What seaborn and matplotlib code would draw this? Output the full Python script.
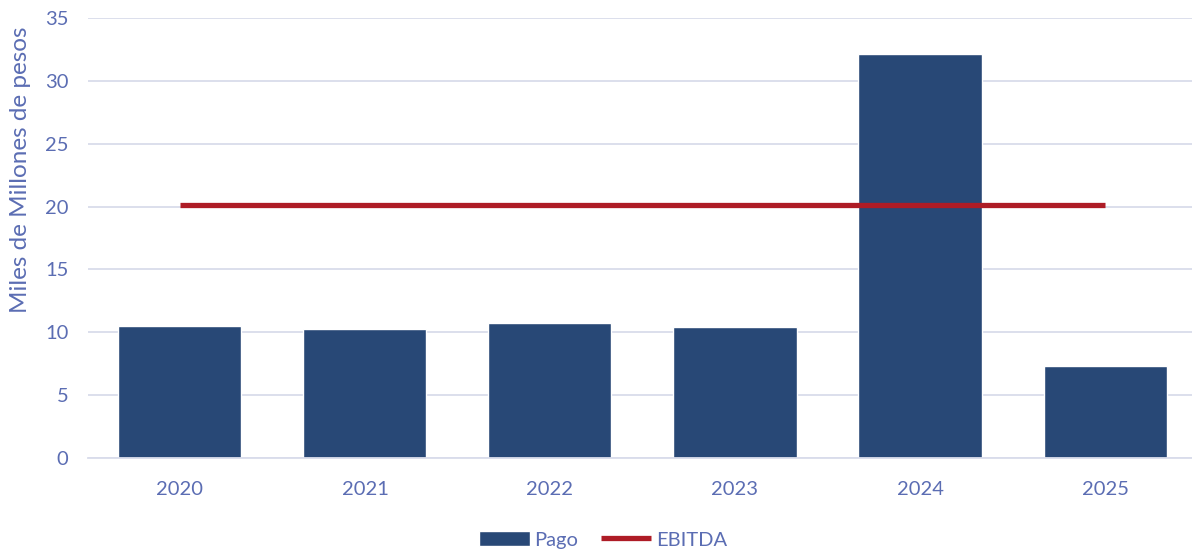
import pandas as pd
import matplotlib.pyplot as plt
import seaborn as sns

years = ["2020", "2021", "2022", "2023", "2024", "2025"]
pago = [10.5, 10.25, 10.72, 10.42, 32.12, 7.32]
ebitda = [20.1, 20.1, 20.1, 20.1, 20.1, 20.1]

text_color = "#5B6DB3"
bar_color = "#284876"
line_color = "#AE1C26"
grid_color = "#D9DCEB"

sns.set_style("white")
plt.rcParams["font.family"] = ["Lato", "DejaVu Sans"]

df = pd.DataFrame({"year": years, "Pago": pago})

fig = plt.figure(figsize=(11.92, 5.51), dpi=100)
ax = fig.add_axes([0.0738, 0.169, 0.9262, 0.798])

sns.barplot(data=df, x="year", y="Pago", color=bar_color, width=0.665,
            saturation=1, ax=ax, label="Pago", zorder=2)
ax.plot(range(len(years)), ebitda, color=line_color, lw=3.8,
        solid_capstyle="butt", label="EBITDA", zorder=3)

ax.set_ylim(0, 35)
ax.set_yticks(range(0, 36, 5))
ax.set_xlim(-0.497, 5.47)
ax.grid(axis="y", color=grid_color, lw=1.3, zorder=0)
ax.set_axisbelow(True)
for s in ["top", "right", "left"]:
    ax.spines[s].set_visible(False)
ax.spines["bottom"].set_color(grid_color)
ax.spines["bottom"].set_linewidth(1.3)

ax.tick_params(axis="both", colors=text_color, labelsize=14.5, length=0)
ax.tick_params(axis="y", pad=14)
ax.tick_params(axis="x", pad=17)
ax.set_xlabel("")
ax.set_ylabel("Miles de Millones de pesos", color=text_color, fontsize=17.5)
ax.yaxis.set_label_coords(-0.0515, 0.6545)

handles, labels = ax.get_legend_handles_labels()
if ax.get_legend() is not None:
    ax.get_legend().remove()
order = [labels.index("Pago"), labels.index("EBITDA")]
fig.legend([handles[i] for i in order], [labels[i] for i in order],
           loc="center", bbox_to_anchor=(0.506, 0.02),
           ncol=2, frameon=False, fontsize=14.5, labelcolor=text_color,
           handlelength=2.5, handletextpad=0.25, columnspacing=1.1)

fig.savefig("out.png", dpi=100)
plt.close()
